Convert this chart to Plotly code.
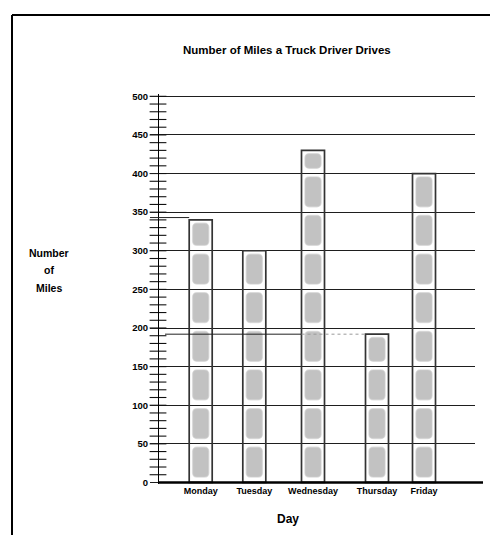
import math
import plotly.graph_objects as go

# ---- data ----
days = ["Monday", "Tuesday", "Wednesday", "Thursday", "Friday"]
miles = [340, 300, 430, 192, 400]
y_tick_vals = list(range(0, 501, 50))
picto_unit = 50  # each picture = 50 miles

# ---- layout helpers (positions / sizes) ----
slot_x = [42.7, 96.3, 155.0, 219.0, 266.0]
bar_w = 23
pic_w = 16
gap_bottom = 7.0
gap_top = 4.4
FONT = "Liberation Sans"
AREA_W = 325.0  # plot area width in px
AREA_H = 390.0


def pxx(p):  # page x pixel -> paper
    return (p - 150) / AREA_W


def pxy(p):  # page y pixel -> paper
    return (484 - p) / AREA_H


fig = go.Figure()

# bar outlines (transparent so grid shows through)
fig.add_trace(go.Bar(
    x=slot_x, y=miles, width=[bar_w] * len(miles),
    marker=dict(color="rgba(0,0,0,0)", line=dict(color="#333333", width=1.7)),
    hoverinfo="skip", showlegend=False,
))

# pictograph segments
px_, base_, h_ = [], [], []
for xv, v in zip(slot_x, miles):
    n = math.ceil(v / picto_unit)
    for k in range(n):
        lo = k * picto_unit
        hi = min(lo + picto_unit, v)
        b = lo + gap_bottom
        t = hi - gap_top
        if t > b:
            px_.append(xv)
            base_.append(b)
            h_.append(t - b)
fig.add_trace(go.Bar(
    x=px_, y=h_, base=base_, width=[pic_w] * len(px_),
    marker=dict(color="#c2c2c2", cornerradius=4,
                line=dict(color="rgba(205,205,205,0.6)", width=1.5)),
    hoverinfo="skip", showlegend=False,
))

# minor tick marks crossing the y axis
minor_vals = list(range(10, 501, 10))
fig.add_trace(go.Scatter(
    x=[0] * len(minor_vals), y=minor_vals, mode="markers",
    marker=dict(symbol="line-ew", size=12, line=dict(color="#111111", width=1.1)),
    cliponaxis=False, hoverinfo="skip", showlegend=False,
))

shapes = []
# thick x axis line
shapes.append(dict(type="line", xref="paper", yref="y", x0=pxx(158), x1=pxx(483), y0=0, y1=0,
                   line=dict(color="black", width=2.6), layer="above"))
# guide line to Monday bar top
shapes.append(dict(type="line", xref="x", yref="y", x0=-8, x1=slot_x[0] - bar_w / 2,
                   y0=miles[0] + 3, y1=miles[0] + 3, line=dict(color="#222222", width=1)))
# guide line to Thursday bar top
shapes.append(dict(type="line", xref="x", yref="y", x0=7, x1=slot_x[2] - bar_w / 2,
                   y0=miles[3], y1=miles[3], line=dict(color="#222222", width=1)))
shapes.append(dict(type="line", xref="x", yref="y", x0=slot_x[2] - bar_w / 2,
                   x1=slot_x[3] - bar_w / 2, y0=miles[3], y1=miles[3],
                   line=dict(color="#999999", width=1, dash="dot")))
# page frame (left and top)
shapes.append(dict(type="line", xref="paper", yref="paper", x0=pxx(12), x1=pxx(12),
                   y0=pxy(560), y1=pxy(15), line=dict(color="black", width=2)))
shapes.append(dict(type="line", xref="paper", yref="paper", x0=pxx(12), x1=pxx(520),
                   y0=pxy(15), y1=pxy(15), line=dict(color="black", width=2)))


def ann(text, x, y, size):
    return dict(text=text, xref="paper", yref="paper", x=pxx(x), y=pxy(y),
                xanchor="center", yanchor="middle", showarrow=False,
                font=dict(family=FONT, size=size, color="black"))


annotations = [
    ann("<b>Number of Miles a Truck Driver Drives</b>", 287, 50, 11.5),
    ann("<b>Number</b>", 49, 253, 10.5),
    ann("<b>of</b>", 49, 270, 10.5),
    ann("<b>Miles</b>", 49, 288, 10.5),
    ann("<b>Day</b>", 288, 519, 12),
]

fig.update_layout(
    width=490, height=527,
    margin=dict(l=142, r=23, t=86, b=51),
    paper_bgcolor="white", plot_bgcolor="white",
    barmode="overlay",
    shapes=shapes, annotations=annotations,
    xaxis=dict(range=[-8, 317], tickvals=slot_x, ticktext=[f"<b>{d}</b>" for d in days],
               tickfont=dict(family=FONT, size=9, color="black"),
               showgrid=False, zeroline=False, showline=False, ticks=""),
    yaxis=dict(range=[-2, 503], tickvals=y_tick_vals,
               ticktext=[f"<b>{v}</b>" for v in y_tick_vals],
               tickfont=dict(family=FONT, size=9.5, color="black"),
               anchor="free", position=8 / AREA_W,
               showgrid=True, gridcolor="#1e1e1e", gridwidth=1,
               zeroline=False, showline=True, linecolor="black", linewidth=1,
               ticks="outside", ticklen=8, tickcolor="#1e1e1e"),
)

fig.write_html("out.html")
